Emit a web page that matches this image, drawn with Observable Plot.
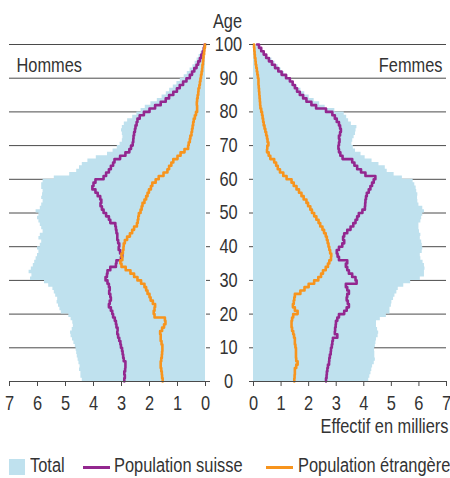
<!DOCTYPE html>
<html>
<head>
<meta charset="utf-8">
<script src="https://cdn.jsdelivr.net/npm/d3@7"></script>
<script src="https://cdn.jsdelivr.net/npm/@observablehq/plot@0.6"></script>
<style>
  html, body { margin: 0; padding: 0; background: #fff; }
  #chart { position: relative; width: 450px; height: 478px; overflow: hidden;
           font-family: "Liberation Sans", Arial, sans-serif; color: #333; }
  #chart svg { position: absolute; top: 0; overflow: visible; }
  #legend { position: absolute; left: 0; top: 452px; width: 450px; height: 26px; font-size: 20px; color: #333; }
  #legend .item { position: absolute; top: 0; line-height: 26px; white-space: nowrap;
                  transform: scaleX(0.82); transform-origin: 0 50%; }
  #legend .sq { position: absolute; top: 7px; width: 16px; height: 16px; }
  #legend .ln { position: absolute; top: 14px; width: 27px; height: 3px; }
</style>
</head>
<body>
<div id="chart"></div>
<script>
// ---- Data (effectif en milliers), ages 0..100 ----
const ages = d3.range(0, 101);
const ageTicks = [0, 10, 20, 30, 40, 50, 60, 70, 80, 90, 100];
const gridAges = [10, 20, 30, 40, 50, 60, 70, 80, 90, 100];
const xTicks = [0, 1, 2, 3, 4, 5, 6, 7];

const menTotal = [
  4.40, 4.45, 4.45, 4.50, 4.48, 4.52, 4.55, 4.58, 4.60, 4.62,
  4.65, 4.70, 4.75, 4.80, 4.82, 4.76, 4.72, 4.74, 4.80, 4.88,
  5.15, 5.20, 5.25, 5.30, 5.28, 5.35, 5.40, 5.45, 5.60, 5.75,
  6.25, 6.20, 6.30, 6.22, 6.15, 6.10, 6.05, 6.00, 5.95, 6.00,
  5.90, 5.85, 5.95, 5.90, 5.80, 5.85, 5.90, 5.95, 6.00, 5.95,
  6.05, 5.90, 5.85, 5.80, 5.85, 5.82, 5.80, 5.85, 5.85, 5.80,
  5.40, 4.85, 4.60, 4.50, 4.40, 4.20, 3.90, 3.50, 3.30, 3.15,
  3.05, 2.97, 2.95, 2.97, 3.00, 2.97, 2.90, 2.78, 2.60, 2.45,
  2.30, 2.15, 1.95, 1.72, 1.55, 1.40, 1.28, 1.15, 1.02, 0.90,
  0.76, 0.65, 0.55, 0.45, 0.37, 0.30, 0.23, 0.16, 0.10, 0.06,
  0.02
];
const menSwiss = [
  2.90, 2.88, 2.90, 2.87, 2.86, 2.86, 2.92, 2.94, 2.96, 2.98,
  3.02, 3.04, 3.08, 3.12, 3.15, 3.14, 3.18, 3.20, 3.24, 3.30,
  3.33, 3.38, 3.45, 3.42, 3.38, 3.40, 3.44, 3.42, 3.45, 3.50,
  3.57, 3.52, 3.50, 3.40, 3.20, 3.18, 3.02, 2.97, 3.05, 3.10,
  3.08, 3.12, 3.15, 3.15, 3.18, 3.20, 3.22, 3.40, 3.45, 3.55,
  3.64, 3.70, 3.75, 3.72, 3.76, 3.85, 3.93, 4.04, 4.00, 3.93,
  3.64, 3.55, 3.45, 3.38, 3.30, 3.25, 3.05, 2.86, 2.72, 2.66,
  2.60, 2.58, 2.57, 2.55, 2.52, 2.50, 2.46, 2.43, 2.35, 2.20,
  2.00, 1.80, 1.60, 1.42, 1.30, 1.15, 1.02, 0.92, 0.80, 0.68,
  0.56, 0.48, 0.40, 0.32, 0.26, 0.20, 0.15, 0.10, 0.06, 0.03,
  0.01
];
const menForeign = [
  1.53, 1.55, 1.56, 1.58, 1.60, 1.60, 1.58, 1.56, 1.55, 1.54,
  1.54, 1.57, 1.60, 1.60, 1.62, 1.55, 1.48, 1.43, 1.45, 1.82,
  1.85, 1.82, 1.80, 1.88, 1.96, 2.00, 2.07, 2.12, 2.18, 2.30,
  2.43, 2.55, 2.68, 2.85, 3.00, 3.04, 2.97, 3.00, 2.95, 2.93,
  2.92, 2.88, 2.80, 2.70, 2.62, 2.55, 2.45, 2.42, 2.40, 2.38,
  2.32, 2.28, 2.25, 2.18, 2.12, 2.07, 2.02, 1.95, 1.90, 1.78,
  1.67, 1.50, 1.36, 1.30, 1.22, 1.15, 1.00, 0.89, 0.75, 0.62,
  0.60, 0.56, 0.54, 0.50, 0.48, 0.46, 0.44, 0.42, 0.38, 0.34,
  0.30, 0.30, 0.31, 0.30, 0.28, 0.26, 0.25, 0.22, 0.20, 0.18,
  0.16, 0.14, 0.12, 0.11, 0.09, 0.08, 0.07, 0.05, 0.04, 0.02,
  0.01
];
const womenTotal = [
  4.18, 4.22, 4.26, 4.29, 4.32, 4.38, 4.42, 4.40, 4.40, 4.39,
  4.42, 4.44, 4.46, 4.52, 4.54, 4.50, 4.46, 4.46, 4.60, 4.82,
  4.95, 4.95, 5.00, 5.02, 5.08, 5.13, 5.20, 5.25, 5.45, 5.70,
  6.05, 6.20, 6.20, 6.22, 6.20, 6.15, 6.07, 6.05, 6.12, 6.14,
  6.12, 6.10, 6.05, 6.07, 6.02, 6.00, 6.00, 6.07, 6.10, 6.14,
  6.20, 6.14, 6.00, 5.96, 5.95, 5.96, 5.92, 5.90, 5.85, 5.79,
  5.40, 5.10, 4.85, 4.78, 4.55, 4.30, 4.05, 3.90, 3.70, 3.62,
  3.57, 3.60, 3.65, 3.70, 3.72, 3.75, 3.55, 3.45, 3.38, 3.29,
  2.95, 2.60, 2.40, 2.20, 2.02, 1.86, 1.72, 1.60, 1.48, 1.38,
  1.25, 1.12, 1.00, 0.90, 0.78, 0.67, 0.52, 0.42, 0.32, 0.22,
  0.12
];
const womenSwiss = [
  2.63, 2.65, 2.66, 2.68, 2.70, 2.74, 2.75, 2.77, 2.80, 2.81,
  2.84, 2.86, 2.88, 3.04, 2.95, 2.96, 2.98, 2.99, 3.04, 3.10,
  3.29, 3.38, 3.46, 3.42, 3.38, 3.40, 3.46, 3.40, 3.35, 3.74,
  3.70, 3.58, 3.46, 3.40, 3.35, 3.40, 3.10, 3.05, 3.02, 3.10,
  3.22, 3.29, 3.25, 3.29, 3.40, 3.52, 3.62, 3.70, 3.76, 3.82,
  3.95, 4.04, 4.05, 4.06, 4.08, 4.11, 4.18, 4.24, 4.30, 4.36,
  4.42, 4.06, 3.90, 3.76, 3.66, 3.58, 3.23, 3.15, 3.10, 3.08,
  3.10, 3.12, 3.10, 3.14, 3.17, 3.14, 3.10, 3.02, 2.95, 2.86,
  2.63, 2.27, 2.10, 1.92, 1.80, 1.68, 1.58, 1.50, 1.42, 1.32,
  1.18, 1.02, 0.90, 0.78, 0.67, 0.56, 0.46, 0.37, 0.28, 0.20,
  0.13
];
const womenForeign = [
  1.48, 1.49, 1.50, 1.50, 1.55, 1.60, 1.55, 1.54, 1.54, 1.54,
  1.52, 1.50, 1.50, 1.47, 1.44, 1.40, 1.38, 1.38, 1.40, 1.44,
  1.60, 1.50, 1.43, 1.46, 1.48, 1.50, 1.70, 1.85, 2.00, 2.20,
  2.35, 2.45, 2.52, 2.62, 2.70, 2.75, 2.81, 2.82, 2.78, 2.75,
  2.72, 2.69, 2.66, 2.62, 2.56, 2.50, 2.42, 2.36, 2.28, 2.20,
  2.12, 2.06, 1.98, 1.92, 1.82, 1.74, 1.65, 1.56, 1.46, 1.38,
  1.20, 1.08, 0.96, 0.88, 0.82, 0.75, 0.61, 0.55, 0.49, 0.50,
  0.54, 0.51, 0.49, 0.46, 0.43, 0.40, 0.37, 0.35, 0.33, 0.31,
  0.28, 0.25, 0.24, 0.23, 0.22, 0.21, 0.20, 0.19, 0.18, 0.18,
  0.16, 0.14, 0.12, 0.10, 0.08, 0.07, 0.05, 0.04, 0.03, 0.02,
  0.01
];

const COL_TOTAL = "#bfe1ee";
const COL_SUISSE = "#93278f";
const COL_ETR = "#f7941d";
const GRID = "#4a4a4a";
const FONT = '"Liberation Sans", Arial, sans-serif';
const NARROW = 0.82; // horizontal condensation to mimic a narrow typeface

const men = ages.map((a, i) => ({age: a, total: menTotal[i], suisse: menSwiss[i], etr: menForeign[i]}));
const women = ages.map((a, i) => ({age: a, total: womenTotal[i], suisse: womenSwiss[i], etr: womenForeign[i]}));

const commonStyle = {background: "transparent", fontFamily: FONT, fontSize: "20px", color: "#333", overflow: "visible"};

function seriesMarks(data) {
  return [
    Plot.ruleY(gridAges, {stroke: GRID, strokeWidth: 1}),
    Plot.areaX(data, {y: "age", x: "total", curve: "step-before", fill: COL_TOTAL}),
    Plot.lineX(data, {y: "age", x: "suisse", curve: "step-before", stroke: COL_SUISSE, strokeWidth: 2.6}),
    Plot.lineX(data, {y: "age", x: "etr", curve: "step-before", stroke: COL_ETR, strokeWidth: 2.6}),
    Plot.ruleY([0], {stroke: GRID, strokeWidth: 1}),
    Plot.axisX({ticks: xTicks, tickSize: 5, tickPadding: 9, tickFormat: d => String(d), label: null, stroke: GRID, fill: "#333"})
  ];
}

const left = Plot.plot({
  width: 250, height: 440,
  marginLeft: 9, marginRight: 45, marginTop: 44, marginBottom: 59,
  x: {domain: [7, 0]},
  y: {domain: [0, 100]},
  style: commonStyle,
  marks: [
    ...seriesMarks(men),
    Plot.axisY({anchor: "right", ticks: ageTicks, tickSize: 4, tickPadding: 19, textAnchor: "middle", label: null, stroke: GRID, fill: "#333"}),
    Plot.text(["Age"], {frameAnchor: "top-right", dx: 22, dy: -17, textAnchor: "middle", lineAnchor: "bottom", fill: "#333"}),
    Plot.text(["Hommes"], {frameAnchor: "top-left", dx: 7, dy: 27, textAnchor: "start", lineAnchor: "bottom", fill: "#333"})
  ]
});

const right = Plot.plot({
  width: 250, height: 440,
  marginLeft: 53, marginRight: 4, marginTop: 44, marginBottom: 59,
  x: {domain: [0, 7]},
  y: {domain: [0, 100]},
  style: commonStyle,
  marks: [
    ...seriesMarks(women),
    Plot.axisY({anchor: "left", ticks: ageTicks, tickSize: 4, tickFormat: () => "", label: null, stroke: GRID}),
    Plot.text(["Femmes"], {frameAnchor: "top-right", dx: -4, dy: 27, textAnchor: "end", lineAnchor: "bottom", fill: "#333"}),
    Plot.text(["Effectif en milliers"], {frameAnchor: "bottom-right", dx: 2, dy: 51, textAnchor: "end", lineAnchor: "bottom", fill: "#333"})
  ]
});

// condense every text horizontally around its own anchor point
function condense(svg, k) {
  svg.querySelectorAll("text").forEach(t => {
    const x = +t.getAttribute("x") || 0;
    const y = +t.getAttribute("y") || 0;
    const tr = t.getAttribute("transform") || "";
    t.setAttribute("transform", `${tr} translate(${x},${y}) scale(${k},1) translate(${-x},${-y})`);
  });
}
condense(left, NARROW);
condense(right, NARROW);

const chart = document.getElementById("chart");
left.style.left = "0px";
right.style.left = "200px";
chart.appendChild(right);
chart.appendChild(left);

// Legend
const legendItems = [
  {label: "Total", kind: "sq", color: COL_TOTAL, sw: 9, tx: 30},
  {label: "Population suisse", kind: "ln", color: COL_SUISSE, sw: 83, tx: 114},
  {label: "Population étrangère", kind: "ln", color: COL_ETR, sw: 266, tx: 298}
];
const legend = document.createElement("div");
legend.id = "legend";
for (const it of legendItems) {
  const s = document.createElement("div");
  s.className = it.kind;
  s.style.left = it.sw + "px";
  s.style.background = it.color;
  legend.appendChild(s);
  const t = document.createElement("div");
  t.className = "item";
  t.style.left = it.tx + "px";
  t.textContent = it.label;
  legend.appendChild(t);
}
chart.appendChild(legend);
</script>
</body>
</html>
